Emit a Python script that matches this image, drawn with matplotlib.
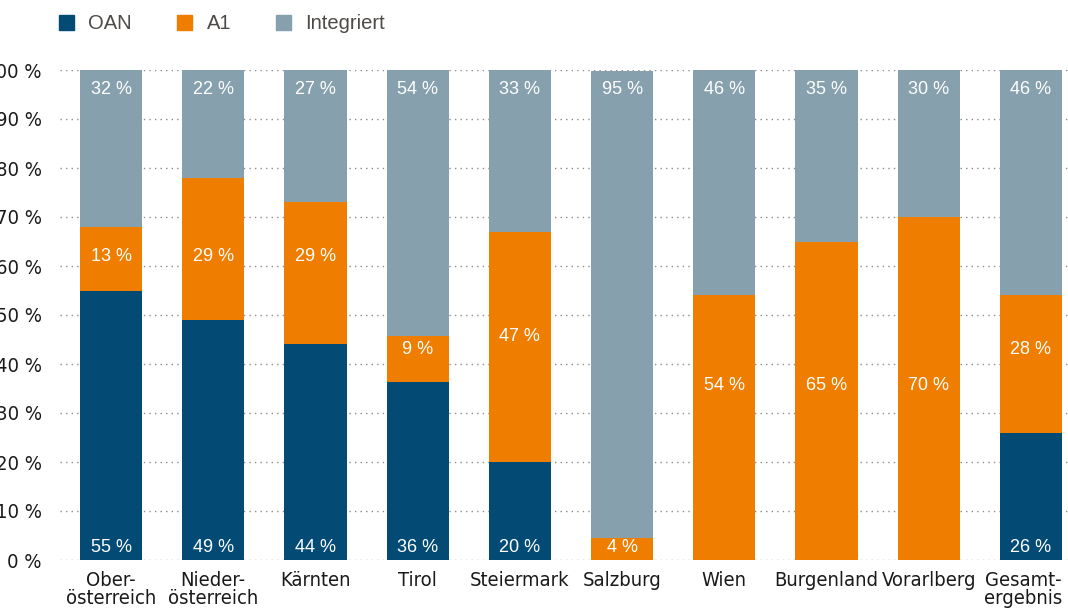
import matplotlib
matplotlib.use("Agg")
import matplotlib.pyplot as plt
from matplotlib import font_manager
from matplotlib.patches import Patch
from matplotlib.transforms import ScaledTranslation

# data (percent)
regions = ["Ober-\nösterreich", "Nieder-\nösterreich", "Kärnten", "Tirol", "Steiermark",
           "Salzburg", "Wien", "Burgenland", "Vorarlberg", "Gesamt-\nergebnis"]
oan = [55, 49, 44, 36.4, 20, 0, 0, 0, 0, 26]
a1 = [13, 29, 29, 9.4, 47, 4.4, 54, 65, 70, 28]
integriert = [32, 22, 27, 54.4, 33, 95.4, 46, 35, 30, 46]
yticks = [0, 10, 20, 30, 40, 50, 60, 70, 80, 90, 100]

# where the A1 labels sit (percent of axis height)
a1_label_y = [62, 62, 62, 42.9, 45.7, 2.6, 35.7, 35.7, 35.7, 42.9]

c_oan = "#034b74"
c_a1 = "#ef7d00"
c_int = "#87a0ae"

# look for a condensed face for the axis labels
cond = None
for f in font_manager.fontManager.ttflist:
    fn = f.fname.lower()
    if ("narrow" in fn or "condensed" in fn) and "bold" not in fn and "italic" not in fn \
            and "oblique" not in fn and "mono" not in fn and "serif" not in fn.replace("sans", ""):
        cond = f.fname
        break
if cond:
    tick_font = font_manager.FontProperties(fname=cond, size=14.5)
else:
    tick_font = font_manager.FontProperties(family="Liberation Sans", size=12)

plt.rcParams["font.family"] = ["Liberation Sans", "DejaVu Sans"]

fig = plt.figure(figsize=(10.68, 6.13), dpi=100)
ax = fig.add_axes([60 / 1068, 53 / 613, 1 - 60 / 1068, 490 / 613])

x = list(range(len(regions)))
w = 0.61
bot_a1 = oan
bot_int = [o + a for o, a in zip(oan, a1)]
ax.bar(x, oan, w, color=c_oan, zorder=2)
ax.bar(x, a1, w, bottom=bot_a1, color=c_a1, zorder=2)
ax.bar(x, integriert, w, bottom=bot_int, color=c_int, zorder=2)

lbl = dict(color="white", fontsize=13, ha="center", va="center", zorder=3)
for i in x:
    if oan[i] > 0:
        ax.text(i, 2.6, f"{round(oan[i])} %", **lbl)
    ax.text(i, a1_label_y[i], f"{round(a1[i])} %", **lbl)
    ax.text(i, 96.1, f"{round(integriert[i])} %", **lbl)

ax.set_xlim(-0.5, 9.363)
ax.set_ylim(0, 100)
ax.set_yticks(yticks)
ax.set_yticklabels([f"{t} %" for t in yticks], fontproperties=tick_font, color="#1a1a1a")
ax.set_xticks(x)
ax.set_xticklabels(regions, fontproperties=tick_font, color="#1a1a1a", linespacing=0.95)
ax.tick_params(axis="y", length=0, pad=13)
ax.tick_params(axis="x", length=0, pad=8)
# last label would run off the right edge: nudge it left a little
last = ax.get_xticklabels()[-1]
last.set_transform(last.get_transform() + ScaledTranslation(-8 / 100, 0, fig.dpi_scale_trans))
for s in ax.spines.values():
    s.set_visible(False)
ax.grid(axis="y", color="#8c8c8c", linestyle=(0, (1, 3)), linewidth=1, zorder=1)
ax.set_axisbelow(True)

handles = [Patch(color=c_oan, label="OAN"), Patch(color=c_a1, label="A1"),
           Patch(color=c_int, label="Integriert")]
leg = fig.legend(handles=handles, loc="upper left", bbox_to_anchor=(41 / 1068, 1.006),
                 ncol=3, frameon=False, fontsize=14.5, handlelength=0.75, handleheight=0.75,
                 handletextpad=0.7, columnspacing=2.25)
for t in leg.get_texts():
    t.set_color("#4d4a47")

fig.savefig("out.png", dpi=100)
